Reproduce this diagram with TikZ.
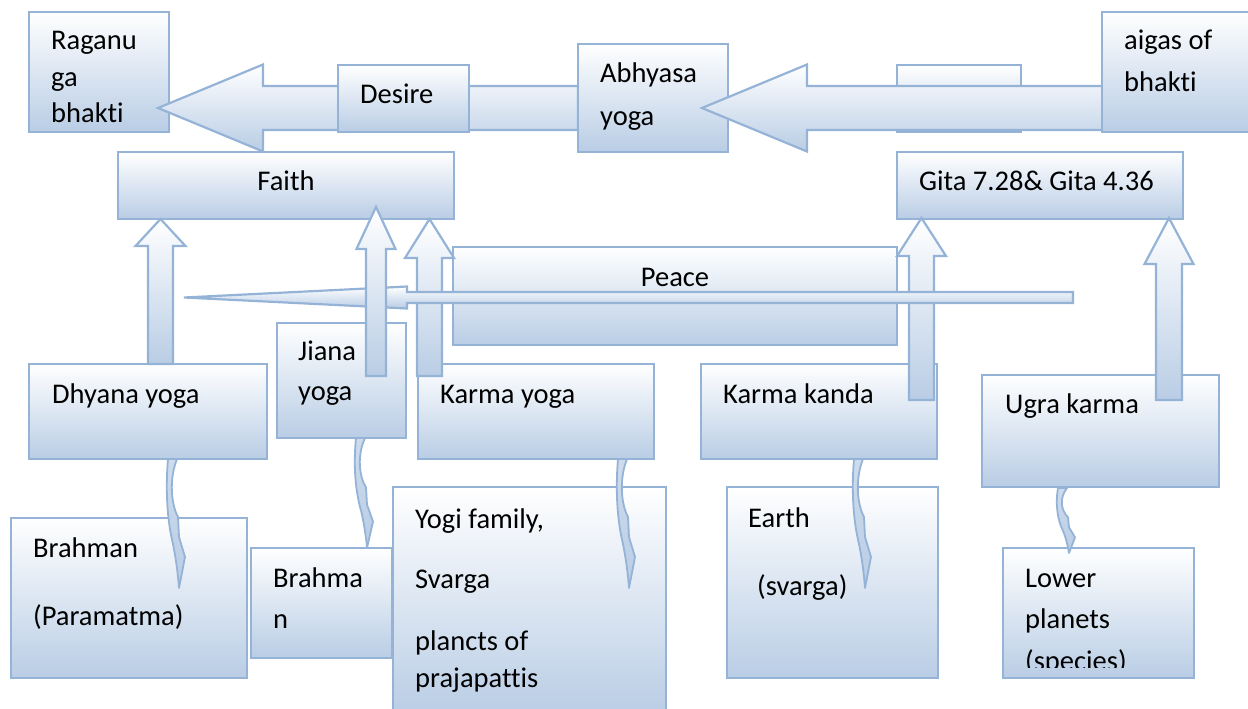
\documentclass[tikz,border=0pt]{standalone}
\usepackage{fontspec}
\setmainfont{Carlito}[Ligatures={NoCommon}]
\definecolor{bord}{RGB}{149,179,215}
\definecolor{boxblue}{RGB}{185,205,229}
\tikzset{
  box/.style={draw=bord, line width=2.2pt, top color=white, bottom color=boxblue, rectangle, inner sep=0pt, outer sep=0pt, anchor=north west},
  blk/.style={draw=bord, line width=2.2pt, top color=white, bottom color=boxblue, line join=miter},
  crv/.style={draw=bord, line width=1.8pt, top color=boxblue!70, bottom color=boxblue, line join=round},
  txt/.style={anchor=base west, inner sep=0pt, font=\fontsize{28.5}{34}\selectfont},
  ctxt/.style={anchor=base, inner sep=0pt, font=\fontsize{28.5}{34}\selectfont}
}
% name, x1, y1, x2, y2
\newcommand\mybox[5]{\node[box, minimum width={#4-#2}, minimum height={#5-#3}] (#1) at (#2,#3) {};}
% xc, shaft half, head half, y bottom, y head base, y tip
\newcommand\uparr[6]{\draw[blk] ({#1-#2},#4) -- ({#1-#2},#5) -- ({#1-#3},#5) -- (#1,#6) -- ({#1+#3},#5) -- ({#1+#2},#5) -- ({#1+#2},#4) -- cycle;}
% x tip, y centre, x head base, shaft half, head half, x tail
\newcommand\leftarr[6]{\draw[blk] (#1,#2) -- (#3,{#2-#5}) -- (#3,{#2-#4}) -- (#6,{#2-#4}) -- (#6,{#2+#4}) -- (#3,{#2+#4}) -- (#3,{#2+#5}) -- cycle;}
% x top, y top, length
\newcommand\curvy[3]{\draw[crv, shift={(#1,#2)}, yscale=#3/129] (-4,0) .. controls (-7,35) and (-4,65) .. (1,85) .. controls (4,100) and (6,115) .. (7,129) -- (13,98) -- (7,78) -- (6,58) .. controls (-1,45) and (-3,20) .. (5,0) -- cycle;}
\begin{document}
\begin{tikzpicture}[x=1pt,y=-1pt]
\useasboundingbox (0,0) rectangle (1248,709);
% top row
\mybox{raganuga}{29}{12}{169}{132}
\mybox{blank}{897}{65}{1021}{132}
\leftarr{158}{108}{263}{22}{43.5}{578}
\mybox{desire}{338}{65}{469}{132}
\mybox{abhyasa}{578}{44}{728}{152}
\leftarr{702}{108}{807}{22}{43.5}{1150}
\mybox{aigas}{1102}{12}{1256}{132}
% second row
\mybox{faith}{118}{152}{454}{219}
\mybox{gita}{897}{152}{1183}{219}
\mybox{peace}{453}{247}{897}{345}
% middle row
\mybox{dhyana}{29}{364}{267}{459}
\mybox{jiana}{277}{323}{406}{438}
\mybox{karmayoga}{418}{364}{654}{459}
\mybox{karmakanda}{701}{364}{937}{459}
\mybox{ugra}{982}{375}{1219}{487}
% up arrows
\uparr{160.5}{12.5}{25}{364}{246}{219}
\uparr{429.5}{12.5}{24.5}{376}{258}{219}
\uparr{921.5}{12.5}{24.5}{400}{256}{218}
\uparr{1169}{13}{24.5}{400}{264}{218}
% thin horizontal arrow
\leftarr{184}{297.5}{407}{5.5}{11}{1073}
\uparr{376}{10}{19.5}{376}{249}{207}
% bottom row
\mybox{brahmanp}{11}{518}{247}{678}
\mybox{brahman}{251}{548}{392}{658}
\mybox{yogi}{393}{487}{666}{715}
\mybox{earth}{727}{487}{938}{678}
\mybox{lower}{1003}{548}{1194}{678}
% curved arrows
\curvy{172}{459}{129}
\curvy{360}{438}{110}
\curvy{622}{459}{129}
\curvy{858}{459}{129}
\curvy{1062}{488}{65}
% texts
\node[txt] (t-rag1) at (51,50) {Raganu};
\node[txt] (t-rag2) at (51,86) {ga};
\node[txt] (t-rag3) at (51,122) {bhakti};
\node[txt] (t-des) at (360,103) {Desire};
\node[txt] (t-abh1) at (600,83) {Abhyasa};
\node[txt] (t-abh2) at (600,125) {yoga};
\node[txt] (t-aig1) at (1124,50) {aigas of};
\node[txt] (t-aig2) at (1124,92) {bhakti};
\node[ctxt] (t-faith) at (286,190) {Faith};
\node[txt] (t-gita) at (919,190) {Gita 7.28\& Gita 4.36};
\node[ctxt] (t-peace) at (675,286) {Peace};
\node[txt] (t-dhy) at (52,403) {Dhyana yoga};
\node[txt] (t-jia1) at (298,360) {Jiana};
\node[txt] (t-jia2) at (298,400) {yoga};
\node[txt] (t-ky) at (440,403) {Karma yoga};
\node[txt] (t-kk) at (723,403) {Karma kanda};
\node[txt] (t-ugra) at (1005,413) {Ugra karma};
\node[txt] (t-bp1) at (33,557) {Brahman};
\node[txt] (t-bp2) at (33,625) {(Paramatma)};
\node[txt] (t-br1) at (273,587) {Brahma};
\node[txt] (t-br2) at (273,628) {n};
\node[txt] (t-yo1) at (415,528) {Yogi family,};
\node[txt] (t-yo2) at (415,588) {Svarga};
\node[txt] (t-yo3) at (415,650) {plancts of};
\node[txt] (t-yo4) at (415,687) {prajapattis};
\node[txt] (t-ea1) at (748,527) {Earth};
\node[txt] (t-ea2) at (757,595) {(svarga)};
\node[txt] (t-lo1) at (1025,587) {Lower};
\node[txt] (t-lo2) at (1025,628) {planets};
\begin{scope}
  \clip (1003,548) rectangle (1194,667);
  \node[txt] (t-lo3) at (1025,670) {(species)};
\end{scope}
\end{tikzpicture}
\end{document}
